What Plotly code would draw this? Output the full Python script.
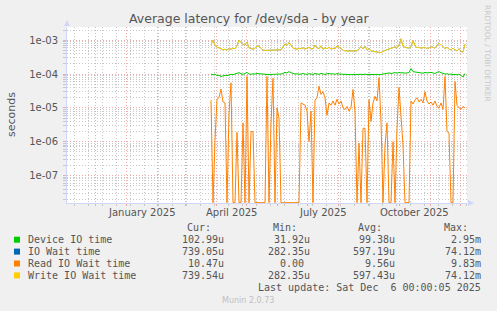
import pandas as pd
import plotly.graph_objects as go

# ---------------- data (values in microseconds) ----------------
start_date = "2025-03-27"
n_points = 128  # one sample every 2 days up to 2025-12-06

device_io_us = [100, 95, 100, 90, 92, 85, 88, 92, 90, 95, 98, 96, 100, 105, 110, 102,
                98, 104, 112, 100, 98, 102, 100, 104, 102, 98, 96, 97, 97, 97, 97, 97,
                97, 98, 97, 100, 104, 112, 108, 118, 110, 104, 100, 102, 98, 100, 104, 100,
                98, 102, 100, 98, 104, 100, 98, 104, 100, 98, 102, 104, 100, 102, 98, 104,
                100, 98, 97, 96, 97, 96, 97, 96, 98, 97, 100, 98, 96, 100, 97, 98,
                96, 97, 96, 98, 95, 97, 100, 104, 106, 108, 104, 108, 110, 106, 112, 108,
                110, 106, 108, 110, 145, 118, 115, 112, 108, 110, 106, 112, 108, 110, 112, 108,
                104, 112, 118, 110, 106, 100, 102, 98, 100, 96, 98, 95, 100, 90, 82, 103]

write_wait_us = [740, 1000, 700, 620, 600, 560, 520, 540, 510, 560, 540, 580, 560, 700, 1000, 850,
                 750, 720, 880, 600, 560, 540, 580, 680, 660, 560, 510, 500, 500, 500, 500, 500,
                 500, 510, 500, 520, 640, 780, 700, 850, 720, 580, 560, 540, 580, 560, 600, 550,
                 580, 620, 550, 560, 720, 600, 560, 680, 540, 600, 560, 620, 540, 580, 560, 680,
                 620, 580, 500, 480, 480, 480, 470, 480, 490, 480, 560, 640, 560, 660, 520, 560,
                 480, 470, 460, 450, 450, 430, 470, 500, 510, 560, 580, 600, 640, 580, 720, 1100,
                 660, 620, 600, 580, 640, 980, 680, 600, 620, 580, 600, 620, 560, 600, 640, 620,
                 580, 700, 820, 720, 640, 560, 620, 540, 520, 580, 520, 480, 560, 460, 450, 760]

# IO wait time is hidden under the write wait line (nearly identical)
io_wait_us = list(write_wait_us)

read_wait_us = [17, 0, 1.1, 18, 20, 36, 15, 14, 0, 7, 55, 0, 0, 1.9, 0, 0,
                3.6, 0, 85, 0, 2, 2, 0, 0, 0, 0, 0, 0, 85, 0, 3.6, 75,
                0, 10, 5, 0, 0, 0, 0, 0, 0, 0, 0, 0, 0, 14, 13, 12,
                8, 1, 8, 0, 17, 20, 44, 25, 30, 20, 6, 14, 12, 16, 12, 18,
                13, 16, 10, 9, 11, 8, 10, 35, 8, 0, 0.9, 0, 2.5, 2.5, 0, 17,
                4, 14, 22, 16, 78, 4, 0, 0.8, 3.6, 0, 0, 1, 0, 2.5, 40, 4,
                0.8, 0, 0, 0, 16, 13, 17, 20, 15, 18, 14, 30, 16, 13, 15, 12,
                16, 11, 10, 14, 9, 85, 2, 1.8, 0, 0, 60, 12, 10, 9, 11, 10]

series_names = ["Device IO time", "IO Wait time", "Read IO Wait time", "Write IO Wait time"]
series_colors = ["#00CC00", "#0066B3", "#FF8000", "#FFCC00"]
cur_vals = ["102.99u", "739.05u", "10.47u", "739.54u"]
min_vals = ["31.92u", "282.35u", "0.00", "282.35u"]
avg_vals = ["99.38u", "597.19u", "9.56u", "597.43u"]
max_vals = ["2.95m", "74.12m", "9.83m", "74.12m"]

y_tick_vals = [1e-7, 1e-6, 1e-5, 1e-4, 1e-3]
y_tick_text = ["1e-07", "1e-06", "1e-05", "1e-04", "1e-03"]
x_label_dates = ["2025-01-16 12:00", "2025-04-16 12:00", "2025-07-16 12:00", "2025-10-16 12:00"]
x_label_text = ["January 2025", "April 2025", "July 2025", "October 2025"]

x_range = ["2024-11-03", "2025-12-08"]
y_log_range = [-7.81, -2.61]

# ---------------- figure ----------------
W_FIG, H_FIG = 497, 311
L, T, PW, PH = 67, 27, 400, 176


def px(x):
    return (x - L) / PW


def py(y):
    return (T + PH - y) / PH


dates = pd.date_range(start_date, periods=n_points, freq="2D")
floor_val = 10 ** (y_log_range[0] + 0.01)


def to_sec(vals):
    return [v * 1e-6 if v > 0 else floor_val for v in vals]


FONT = "DejaVu Sans"
MONO = "DejaVu Sans Mono"
TXT = "#555555"
MGRID = "#F0A8A8"
GRID = "#C8C8C8"
AXIS = "#CFD6F8"

fig = go.Figure()
series_data = [device_io_us, io_wait_us, read_wait_us, write_wait_us]
line_widths = [1, 0.6, 1, 1]
for name, col, vals, lw in zip(series_names, series_colors, series_data, line_widths):
    fig.add_trace(go.Scatter(x=dates, y=to_sec(vals), mode="lines", name=name,
                             line=dict(color=col, width=lw), showlegend=False))

month_starts = pd.date_range("2024-12-01", "2025-12-01", freq="MS")
biweekly = pd.date_range("2024-11-10", "2025-12-07", freq="14D")

minor_y = []
for k in range(-8, -2):
    for m in range(2, 10):
        minor_y.append(m * 10 ** k)

fig.update_layout(
    width=W_FIG, height=H_FIG,
    margin=dict(l=L, r=W_FIG - L - PW, t=T, b=H_FIG - T - PH),
    paper_bgcolor="#F0F0F0", plot_bgcolor="#FFFFFF",
    font=dict(family=FONT, color=TXT, size=10),
    xaxis=dict(type="date", range=x_range, showgrid=True, gridcolor=MGRID,
               griddash="1px,2px", gridwidth=1, tickvals=list(month_starts),
               showticklabels=False, ticks="outside", ticklen=2, tickcolor=MGRID,
               showline=True, linecolor=AXIS, linewidth=1, zeroline=False,
               minor=dict(tickvals=list(biweekly), showgrid=True, gridcolor=GRID,
                          griddash="1px,2px", ticks="outside", ticklen=2, tickcolor=GRID)),
    yaxis=dict(type="log", range=y_log_range, tickvals=y_tick_vals, ticktext=y_tick_text,
               showgrid=True, gridcolor=MGRID, griddash="1px,2px",
               ticks="outside", ticklen=3, tickcolor=MGRID, ticklabelstandoff=3,
               showline=True, linecolor=AXIS, linewidth=1, zeroline=False,
               tickfont=dict(size=10, color=TXT),
               minor=dict(tickvals=minor_y, showgrid=True, gridcolor=GRID,
                          griddash="1px,2px", ticks="outside", ticklen=3, tickcolor=GRID)),
)

ann = []
# title
ann.append(dict(text="Average latency for /dev/sda - by year", x=px(248.5), y=py(18.5),
                xref="paper", yref="paper", xanchor="center", yanchor="middle",
                showarrow=False, font=dict(family=FONT, size=12.5, color=TXT)))
# y axis title
ann.append(dict(text="seconds", x=px(12), y=py(114), xref="paper", yref="paper",
                xanchor="center", yanchor="middle", textangle=-90, showarrow=False,
                font=dict(family=FONT, size=11, color=TXT)))
# x tick labels
for d, t in zip(x_label_dates, x_label_text):
    ann.append(dict(text=t, x=d, y=py(212.5), xref="x", yref="paper", xanchor="center",
                    yanchor="middle", showarrow=False, font=dict(family=FONT, size=10, color=TXT)))
# side credit
ann.append(dict(text="RRDTOOL / TOBI OETIKER", x=px(488), y=py(53), xref="paper", yref="paper",
                xanchor="center", yanchor="middle", textangle=90, showarrow=False,
                font=dict(family=FONT, size=7.5, color="#C8C8C8")))
# legend header
for h, xr in zip(["Cur:", "Min:", "Avg:", "Max:"], [212.7, 299, 384, 470]):
    ann.append(dict(text=h, x=px(xr), y=py(227.3), xref="paper", yref="paper", xanchor="right",
                    yanchor="middle", showarrow=False, font=dict(family=MONO, size=10, color=TXT)))
shapes = []
for i, name in enumerate(series_names):
    yc = 239.7 + 11.9 * i
    shapes.append(dict(type="rect", xref="paper", yref="paper", x0=px(14), x1=px(20),
                       y0=py(yc + 3), y1=py(yc - 3), fillcolor=series_colors[i], line=dict(width=0)))
    ann.append(dict(text=name, x=px(26), y=py(yc), xref="paper", yref="paper", xanchor="left",
                    yanchor="middle", showarrow=False, font=dict(family=MONO, size=10, color=TXT)))
    for vals, xr in zip([cur_vals, min_vals, avg_vals, max_vals], [225.7, 311.7, 396.7, 482.7]):
        v = vals[i]
        xe = xr if v[-1].isalpha() else xr - 6
        ann.append(dict(text=v, x=px(xe), y=py(yc), xref="paper", yref="paper", xanchor="right",
                        yanchor="middle", showarrow=False, font=dict(family=MONO, size=10, color=TXT)))
ann.append(dict(text="Last update: Sat Dec \u00a06 00:00:05 2025", x=px(482.7), y=py(287.7),
                xref="paper", yref="paper", xanchor="right", yanchor="middle", showarrow=False,
                font=dict(family=MONO, size=10, color=TXT)))
ann.append(dict(text="Munin 2.0.73", x=px(248), y=py(300), xref="paper", yref="paper",
                xanchor="center", yanchor="middle", showarrow=False,
                font=dict(family=FONT, size=8, color="#C0C0C0")))

# axis arrows
shapes.append(dict(type="path", xref="paper", yref="paper",
                   path=f"M {px(64)},{py(26)} L {px(67)},{py(20)} L {px(70)},{py(26)} Z",
                   fillcolor=AXIS, line=dict(width=0)))
shapes.append(dict(type="path", xref="paper", yref="paper",
                   path=f"M {px(468)},{py(200)} L {px(474)},{py(203)} L {px(468)},{py(206)} Z",
                   fillcolor=AXIS, line=dict(width=0)))

fig.update_layout(annotations=ann, shapes=shapes)
fig.write_html("out.html")
